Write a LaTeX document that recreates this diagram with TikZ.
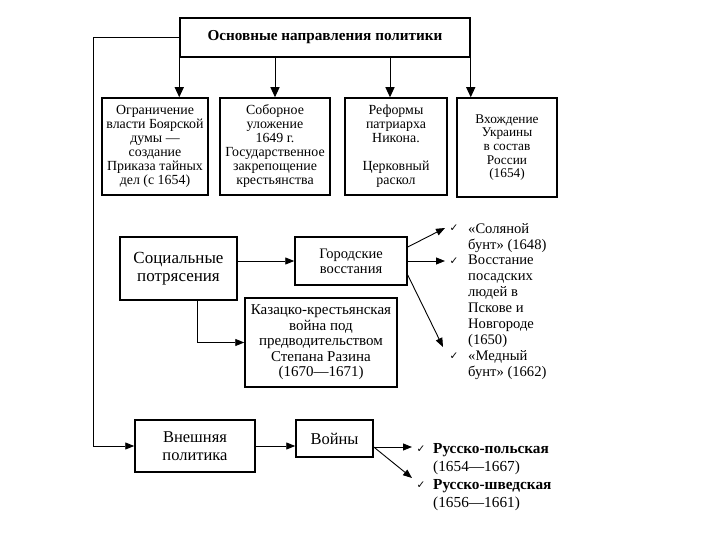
\documentclass[tikz,border=0pt]{standalone}
\usepackage{fontspec}
\setmainfont{Liberation Serif}
\newfontfamily\chkfont{DejaVu Sans}
\usetikzlibrary{arrows.meta, positioning}

\begin{document}
\begin{tikzpicture}[x=1pt, y=-1pt,
    box/.style={rectangle, draw=black, line width=1.5pt, fill=white, align=center,
                inner sep=2pt, font=\fontsize{13.9}{14}\selectfont},
    item/.style={anchor=north west, align=left, inner sep=0pt,
                 font=\fontsize{14.6}{15.9}\selectfont},
    chk/.style={inner sep=0pt, font=\chkfont\fontsize{10.5}{10.5}\selectfont},
    arr/.style={-{Triangle[length=9pt, width=7pt]}, line width=0.9pt},
    toparr/.style={-{Triangle[length=10pt, width=9pt]}, line width=1pt},
  ]
  \useasboundingbox[fill=white] (0,0) rectangle (720,540);
  \node[box, minimum width=290pt, minimum height=39pt,
        font=\bfseries\fontsize{15.2}{16}\selectfont] (main) at (325,37.5)
    {Основные направления политики};
  \node[box, minimum width=106pt, minimum height=97pt] (b1) at (155,146.5)
    {Ограничение\\власти Боярской\\думы —\\создание\\Приказа тайных\\дел (с 1654)};
  \node[box, minimum width=110pt, minimum height=97pt] (b2) at (275,146.5)
    {Соборное\\уложение\\1649 г.\\Государственное\\закрепощение\\крестьянства};
  \node[box, minimum width=102pt, minimum height=97pt] (b3) at (396,146.5)
    {Реформы\\патриарха\\Никона.\\[14pt]Церковный\\раскол};
  \node[box, minimum width=100pt, minimum height=99pt,
        font=\fontsize{13.3}{13.7}\selectfont] (b4) at (507,147.5)
    {Вхождение\\Украины\\в состав\\России\\(1654)};
  \draw[toparr] (main.south west) -- (main.south west |- b1.north);
  \draw[toparr] (main.south -| b2.north) -- (b2.north);
  \draw[toparr] ([xshift=-6pt]b3.north |- main.south) -- ([xshift=-6pt]b3.north);
  \draw[toparr] (main.south east) -- (main.south east |- b4.north);

  \node[box, minimum width=117pt, minimum height=63pt,
        font=\fontsize{17}{18}\selectfont] (social) at (178.5,268.5)
    {Социальные\\потрясения};
  \node[box, minimum width=112pt, minimum height=48pt,
        font=\fontsize{14.5}{15}\selectfont] (gorod) at (351,261)
    {Городские\\восстания};
  \node[box, minimum width=152pt, minimum height=89pt,
        font=\fontsize{15}{15.5}\selectfont] (kazak) at (321,342.5)
    {Казацко-крестьянская\\война под\\предводительством\\Степана Разина\\(1670—1671)};
  \draw[arr] (social.east |- gorod.west) -- (gorod.west);
  \draw[arr] ([xshift=19pt]social.south) |- (kazak.west);

  \coordinate (g1) at (445,228);
  \coordinate (g2) at (445,261);
  \coordinate (g3) at (443,347);
  \draw[arr] ([yshift=14pt]gorod.east) -- (g1);
  \draw[arr] (gorod.east) -- (g2);
  \draw[arr] ([yshift=-14pt]gorod.east) -- (g3);
  \node[chk] (c1) at (454,228) {✓};
  \node[chk] (c2) at (454,261) {✓};
  \node[chk] (c3) at (454,356) {✓};
  \node[item] (i1) at (468,223) {«Соляной\\бунт» (1648)};
  \node[item] (i2) at (468,255) {Восстание\\посадских\\людей в\\Пскове и\\Новгороде\\(1650)};
  \node[item] (i3) at (468,350) {«Медный\\бунт» (1662)};

  \node[box, minimum width=120pt, minimum height=52pt,
        font=\fontsize{16.5}{18}\selectfont] (vnesh) at (195,446)
    {Внешняя\\политика};
  \node[box, minimum width=77pt, minimum height=37pt,
        font=\fontsize{16.5}{17}\selectfont] (vojny) at (334.5,438.5) {Войны};
  \coordinate (rail) at (93,0);
  \draw[arr] (main.west) -- (main.west -| rail) |- (vnesh.west);
  \draw[arr] (vnesh.east) -- (vnesh.east -| vojny.west);
  \coordinate (w1) at (412,447);
  \coordinate (w2) at (412,478);
  \draw[arr] (vojny.east |- w1) -- (w1);
  \draw[arr] (vojny.east |- w1) -- (w2);
  \node[chk] (c4) at (421,449) {✓};
  \node[chk] (c5) at (421,485) {✓};
  \node[item, font=\fontsize{15.3}{17.7}\selectfont] (w1t) at (433,443.5)
    {\textbf{Русско-польская}\\(1654—1667)};
  \node[item, font=\fontsize{15.3}{17.7}\selectfont] (w2t) at (433,479.5)
    {\textbf{Русско-шведская}\\(1656—1661)};
\end{tikzpicture}
\end{document}
